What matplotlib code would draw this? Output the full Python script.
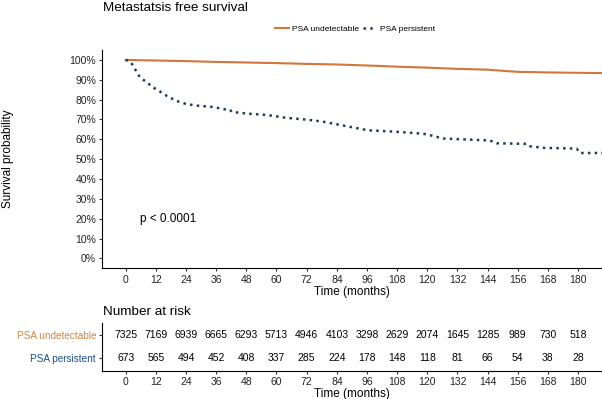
import matplotlib
matplotlib.use("Agg")
import matplotlib.pyplot as plt
from matplotlib.lines import Line2D

plt.rcParams['font.family'] = ['Liberation Sans', 'DejaVu Sans']

# survival curves (months, %)
months_undet = [0, 12, 24, 36, 48, 60, 72, 84, 96, 108, 120, 132, 144, 150, 156, 168, 180, 189.5]
surv_undet = [100, 99.7, 99.4, 99.0, 98.7, 98.4, 98.0, 97.7, 97.2, 96.6, 96.1, 95.5, 95.1, 94.5, 94.0, 93.7, 93.5, 93.4]

months_pers = [0, 1.2, 2.1, 3.7, 5.7, 8.4, 11, 13.6, 16.3, 20.3, 24.3, 29.6, 34.7, 39.5, 41.5, 42.2, 48.8,
               56, 63.4, 72, 78, 82.6, 89.2, 94.5, 97.2, 107.8, 118.4, 121, 126.3, 144.9, 147.6, 159.5,
               160.8, 166.1, 179.4, 180.7, 189.5]
surv_pers = [100, 99.5, 98.8, 95.4, 91.2, 88.7, 86.1, 84.1, 81.9, 79.3, 77.7, 76.8, 76.3, 75.1, 74.9, 73.8, 72.9,
             72.3, 70.9, 69.9, 69.0, 67.9, 66.3, 65.0, 64.5, 63.8, 62.8, 62.1, 60.4, 59.4, 58.0, 57.7,
             56.5, 55.7, 55.3, 53.1, 53.1]

# number at risk table
risk_times = [0, 12, 24, 36, 48, 60, 72, 84, 96, 108, 120, 132, 144, 156, 168, 180]
risk_undet = [7325, 7169, 6939, 6665, 6293, 5713, 4946, 4103, 3298, 2629, 2074, 1645, 1285, 989, 730, 518]
risk_pers = [673, 565, 494, 452, 408, 337, 285, 224, 178, 148, 118, 81, 66, 54, 38, 28]
groups = ["PSA undetectable", "PSA persistent"]

col_undet = '#D2763B'
col_pers = '#23395B'
lab_undet = '#CD8648'
lab_pers = '#1F4E8C'

W, H = 602, 399
fig = plt.figure(figsize=(W / 100, H / 100), dpi=100)

def fr(x0, y0, x1, y1):
    # pixel box -> figure fraction rect
    return [x0 / W, 1 - y1 / H, (x1 - x0) / W, (y1 - y0) / H]

xlim = (-9.3, 189.5)

## MAIN PLOT
ax = fig.add_axes(fr(102.3, 50, 602, 268.3))
ax.plot(months_undet, surv_undet, color=col_undet, lw=1.5)
ax.plot(months_pers, surv_pers, color=col_pers, lw=1.8, linestyle=(0, (1, 1.7)))
ax.set_xlim(xlim)
ax.set_ylim(-5, 105)
ax.set_xticks(risk_times)
ax.set_yticks(range(0, 101, 10))
ax.set_yticklabels([f"{v}%" for v in range(0, 101, 10)])
for s in ['top', 'right']:
    ax.spines[s].set_visible(False)
ax.tick_params(labelsize=7.5, length=2.5, width=0.8, pad=2, colors='#333333', labelcolor='#222222')
ax.set_xlabel("Time (months)", fontsize=8.5, labelpad=1)
ax.text(5.7, 20, "p < 0.0001", fontsize=8.5, ha='left', va='center')
fig.text(8 / W, 1 - 159 / H, "Survival probability", rotation=90, fontsize=8.5, ha='center', va='center')
fig.text(103 / W, 1 - 8 / H, "Metastatsis free survival", fontsize=9.7, ha='left', va='center')

handles = [Line2D([], [], color=col_undet, lw=1.5),
           Line2D([], [], color=col_pers, lw=1.8, linestyle=(0, (1, 1.7)))]
fig.legend(handles, groups, loc='center', bbox_to_anchor=(355 / W, 1 - 29.3 / H), ncol=2, frameon=False,
           fontsize=6, handlelength=1.6, handletextpad=0.4, columnspacing=0.5)

## RISK TABLE
tab = fig.add_axes(fr(102.3, 322.7, 602, 370.5))
tab.set_xlim(xlim)
tab.set_ylim(-0.542, 1.542)
for i, t in enumerate(risk_times):
    tab.text(t, 1, str(risk_undet[i]), ha='center', va='center', fontsize=7.5)
    tab.text(t, 0, str(risk_pers[i]), ha='center', va='center', fontsize=7.5)
tab.set_xticks(risk_times)
tab.set_yticks([1, 0])
tab.set_yticklabels(groups)
for s in ['top', 'right']:
    tab.spines[s].set_visible(False)
tab.tick_params(labelsize=7.5, length=2.5, width=0.8, pad=2, colors='#333333', labelcolor='#222222')
for lab, c in zip(tab.get_yticklabels(), [lab_undet, lab_pers]):
    lab.set_color(c)
    lab.set_fontsize(7.2)
tab.set_xlabel("Time (months)", fontsize=8.5, labelpad=1)
fig.text(103 / W, 1 - 311.7 / H, "Number at risk", fontsize=9.7, ha='left', va='center')

fig.savefig("out.png", dpi=100)
